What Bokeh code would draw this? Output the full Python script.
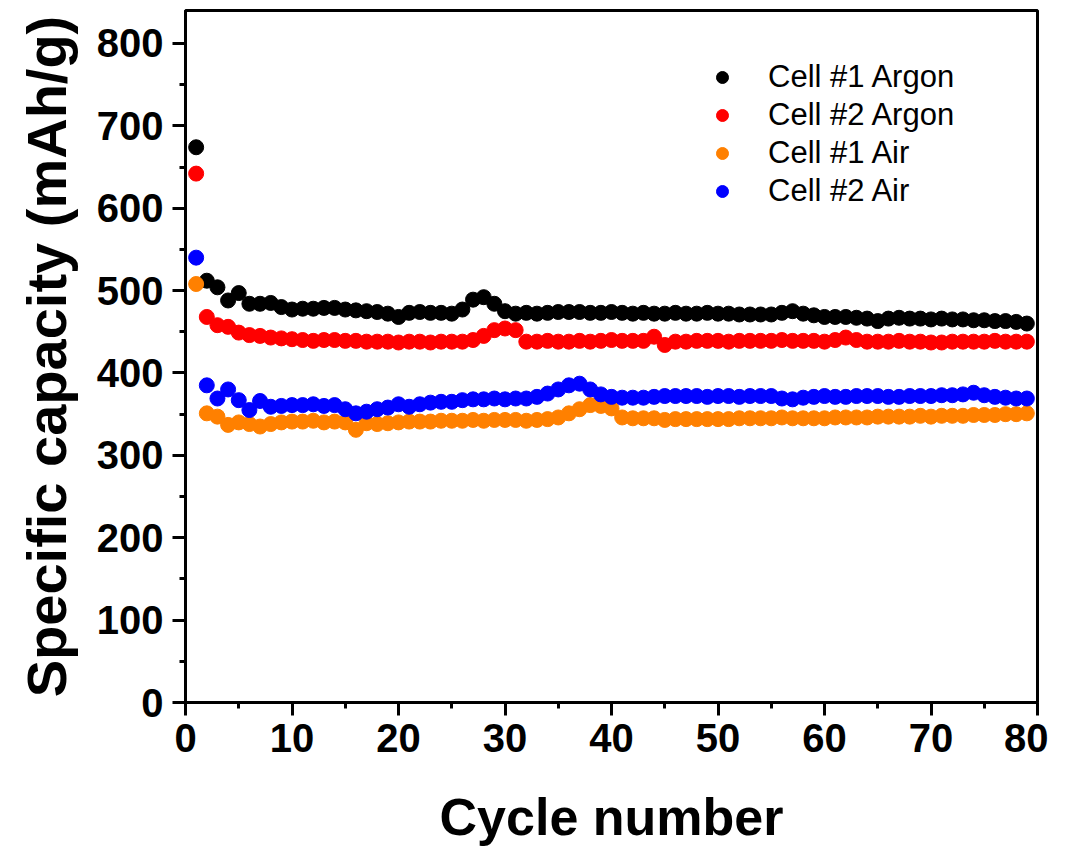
from bokeh.plotting import figure
from bokeh.models import Legend, LegendItem, FixedTicker, Range1d
from bokeh.embed import file_html
from bokeh.resources import INLINE

cycles = list(range(1, 80))

cell1_argon = [674, 512, 504, 488, 497, 484, 484, 485, 480, 477,
               478, 478, 479, 479, 477, 476, 475, 474, 472, 468,
               473, 474, 473, 473, 472, 477, 489, 492, 484, 475,
               472, 473, 472, 473, 474, 474, 474, 473, 473, 474,
               473, 472, 473, 472, 472, 473, 472, 472, 473, 472,
               472, 471, 471, 471, 471, 473, 475, 472, 470, 468,
               468, 468, 467, 466, 463, 466, 467, 466, 466, 465,
               466, 465, 465, 464, 464, 463, 463, 462, 460]

cell2_argon = [642, 468, 458, 456, 449, 446, 445, 443, 442, 441,
               440, 439, 440, 440, 439, 439, 438, 438, 438, 437,
               438, 438, 437, 438, 438, 438, 440, 445, 452, 454,
               452, 438, 438, 439, 438, 438, 439, 438, 439, 440,
               439, 439, 439, 444, 434, 438, 438, 439, 439, 439,
               438, 439, 439, 439, 439, 440, 439, 439, 439, 438,
               440, 443, 440, 438, 438, 438, 439, 438, 438, 437,
               437, 438, 438, 438, 438, 439, 438, 438, 438]

cell1_air = [508, 351, 347, 337, 340, 338, 335, 338, 340, 341,
             341, 342, 340, 341, 340, 331, 339, 338, 339, 340,
             341, 341, 341, 342, 342, 342, 343, 342, 343, 343,
             343, 342, 343, 344, 346, 351, 356, 361, 360, 357,
             346, 345, 345, 345, 343, 344, 344, 344, 344, 344,
             344, 345, 345, 345, 345, 346, 345, 345, 345, 345,
             346, 346, 346, 346, 347, 347, 347, 347, 348, 347,
             348, 348, 348, 349, 349, 349, 350, 350, 351]

cell2_air = [540, 385, 369, 380, 367, 355, 366, 359, 360, 361,
             361, 362, 360, 361, 356, 351, 353, 356, 358, 362,
             359, 362, 364, 365, 365, 367, 368, 368, 369, 368,
             369, 369, 371, 375, 380, 385, 387, 380, 374, 371,
             370, 370, 370, 371, 372, 372, 372, 372, 371, 372,
             372, 371, 372, 372, 372, 369, 368, 370, 371, 372,
             371, 371, 372, 372, 372, 371, 371, 372, 372, 372,
             373, 373, 374, 376, 373, 371, 370, 369, 369]

series_names = ["Cell #1 Argon", "Cell #2 Argon", "Cell #1 Air", "Cell #2 Air"]
series_colors = ["#000000", "#FF0000", "#FF8000", "#0000FF"]
series_values = [cell1_argon, cell2_argon, cell1_air, cell2_air]

x_ticks = [0, 10, 20, 30, 40, 50, 60, 70, 80]
x_minor = [5, 15, 25, 35, 45, 55, 65, 75]
y_ticks = [0, 100, 200, 300, 400, 500, 600, 700, 800]
y_minor = [50, 150, 250, 350, 450, 550, 650, 750]

FONT = "Liberation Sans"

p = figure(width=1048, height=848, output_backend="svg", toolbar_location=None,
           x_range=Range1d(0, 80), y_range=Range1d(0, 840),
           min_border_left=185, min_border_right=11, min_border_top=10,
           min_border_bottom=146)

items = []
for name, col, vals in zip(series_names, series_colors, series_values):
    r = p.scatter(cycles, vals, size=15, color=col, line_color=col)
    items.append(LegendItem(label=name, renderers=[r]))

p.xgrid.visible = False
p.ygrid.visible = False
p.outline_line_color = "black"
p.outline_line_width = 3
p.background_fill_color = "white"
p.border_fill_color = "white"

for ax in (p.xaxis[0], p.yaxis[0]):
    ax.axis_line_width = 3
    ax.major_tick_line_width = 3
    ax.minor_tick_line_width = 3
    ax.major_tick_out = 13
    ax.major_tick_in = 0
    ax.minor_tick_out = 6
    ax.minor_tick_in = 0
    ax.major_label_text_font = FONT
    ax.major_label_text_font_style = "bold"
    ax.major_label_text_font_size = "40px"
    ax.major_label_text_color = "black"
    ax.axis_label_text_font = FONT
    ax.axis_label_text_font_style = "bold"
    ax.axis_label_text_color = "black"

p.xaxis[0].ticker = FixedTicker(ticks=x_ticks, minor_ticks=x_minor)
p.yaxis[0].ticker = FixedTicker(ticks=y_ticks, minor_ticks=y_minor)
p.xaxis[0].axis_label = "Cycle number"
p.yaxis[0].axis_label = "Specific capacity (mAh/g)"
p.xaxis[0].axis_label_text_font_size = "52px"
p.yaxis[0].axis_label_text_font_size = "56px"
p.xaxis[0].major_label_standoff = 8
p.yaxis[0].major_label_standoff = 9
p.xaxis[0].axis_label_standoff = 33
p.yaxis[0].axis_label_standoff = 16

legend = Legend(items=items, location=(522, 492))
legend.glyph_width = 30
legend.glyph_height = 38
legend.label_height = 38
legend.label_standoff = 31
legend.padding = 0
legend.spacing = 0
legend.margin = 0
legend.border_line_color = None
legend.background_fill_alpha = 0
legend.label_text_font = FONT
legend.label_text_font_size = "31px"
legend.label_text_color = "black"
p.add_layout(legend)

open("out.html", "w").write(file_html(p, INLINE))
